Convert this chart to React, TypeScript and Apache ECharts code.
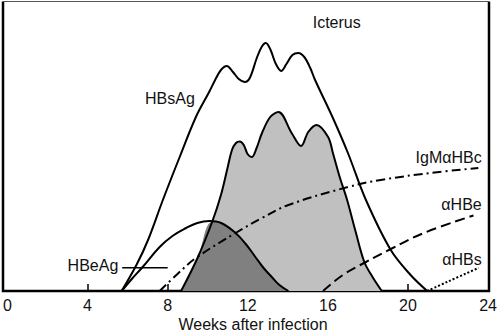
import React, { useEffect, useRef } from "react";
import * as echarts from "echarts";

// x axis (weeks after infection)
const xTicks = [0, 4, 8, 12, 16, 20, 24];
const tickWeeks = [4, 8, 12, 16, 20];

// HBsAg (outer curve)
const hbsAgWeeks = [5.7, 6.44, 7.02, 7.76, 8.58, 9.41, 10.07, 10.37, 10.66, 10.95, 11.26, 11.55, 11.85, 12.1, 12.45, 12.69, 12.9, 13.14, 13.38, 13.67, 13.93, 14.23, 14.52, 14.82, 15.12, 15.36, 16.25, 17.0, 17.9, 19.14, 20.13, 20.96];
const hbsAgLevel = [0, 26, 51, 91, 133, 174, 199, 211, 221, 225, 219, 212, 209, 213, 233, 244, 248, 241, 228, 220, 227, 236, 238, 234, 223, 211, 173, 138, 91, 41, 16, 0];

// Light grey curve (icterus / transaminases)
const greyWeeks = [8.67, 9.49, 10.22, 10.66, 11.0, 11.21, 11.41, 11.6, 11.8, 11.99, 12.2, 12.44, 12.71, 13.12, 13.53, 14.19, 14.66, 15.02, 15.43, 16.01, 16.25, 16.59, 16.96, 17.39, 17.82, 18.23, 18.69];
const greyLevel = [0, 33, 69, 96, 124, 141, 148, 149.5, 146, 137, 134, 143, 158, 174, 179, 158, 145, 159, 166, 154, 138, 114, 91, 59, 29, 14, 0];

// HBeAg bell
const hbeAgWeeks = [5.7, 6.21, 6.75, 7.6, 8.24, 8.92, 9.48, 10.07, 10.67, 11.39, 11.9, 12.38, 12.79, 13.2, 13.58, 14.03];
const hbeAgLevel = [0, 12, 24, 44, 55, 63, 68, 70, 68, 58, 47, 34, 23, 14, 6, 0];

// Dark overlap region (HBeAg inside grey curve)
const darkWeeks = [8.67, 9.49, 10.22, 10.67, 11.39, 11.9, 12.38, 12.79, 13.2, 13.58, 14.03];
const darkLevel = [0, 33, 69, 68, 58, 47, 34, 23, 14, 6, 0];

// IgM anti-HBc (dash-dot)
const igmWeeks = [7.6, 8.49, 9.41, 11.39, 12.71, 14.03, 17.0, 18.64, 21.12, 23.51];
const igmLevel = [0, 17, 33, 58, 73, 86, 104, 111, 118, 123];

// anti-HBe (dashed)
const hbeWeeks = [15.76, 16.75, 17.9, 19.14, 20.79, 23.27];
const hbeLevel = [0, 16, 29, 42, 58, 75.5];

// anti-HBs (dotted)
const hbsWeeks = [20.96, 21.95, 23.51];
const hbsLevel = [0, 9, 23];

// HBeAg label leader line
const leaderWeeks = [5.73, 8.0];
const leaderLevel = [23.3, 23.3];

const zip = (xs: number[], ys: number[]) => xs.map((x, i) => [x, ys[i]]);
const FONT = '"Liberation Sans", Arial, Helvetica, sans-serif';
const TXT = "#111";

export default function App() {
  const ref = useRef<HTMLDivElement>(null);
  useEffect(() => {
    if (!ref.current) return;
    const chart = echarts.init(ref.current, null, { renderer: "svg" });
    const lineOnly = (data: number[][], extra: any = {}, smooth = 0.4) => ({
      type: "line",
      data,
      smooth,
      symbol: "none",
      silent: true,
      lineStyle: { color: "#000", width: 2, ...extra },
    });
    const label = (text: string, x: number, y: number, align: string) => ({
      type: "text",
      x,
      y,
      silent: true,
      style: {
        text,
        fill: TXT,
        font: `16px ${FONT}`,
        textAlign: align,
        textVerticalAlign: "middle",
        verticalAlign: "middle",
      },
    });
    chart.setOption({
      animation: false,
      grid: { left: 6.5, right: 8.5, top: 1.5, bottom: 43 },
      xAxis: {
        type: "value",
        min: xTicks[0],
        max: xTicks[xTicks.length - 1],
        interval: 4,
        axisLine: { show: false },
        splitLine: { show: false },
        axisTick: {
          show: true,
          inside: true,
          length: 7,
          customValues: tickWeeks,
          lineStyle: { color: "#000", width: 1.5 },
        },
        axisLabel: {
          color: TXT,
          fontSize: 16,
          fontFamily: FONT,
          margin: 6,
          showMinLabel: true,
          showMaxLabel: true,
        },
      },
      yAxis: { type: "value", min: 0, max: 289.5, show: false },
      series: [
        {
          type: "line",
          data: zip(greyWeeks, greyLevel),
          smooth: 0.35,
          symbol: "none",
          silent: true,
          lineStyle: { width: 0, opacity: 0 },
          areaStyle: { color: "#c0c0c0", opacity: 1 },
        },
        {
          type: "line",
          data: zip(darkWeeks, darkLevel),
          smooth: 0.4,
          symbol: "none",
          silent: true,
          lineStyle: { width: 0, opacity: 0 },
          areaStyle: { color: "#808080", opacity: 1 },
        },
        lineOnly(zip(greyWeeks, greyLevel), {}, 0.35),
        lineOnly(zip(hbeAgWeeks, hbeAgLevel)),
        lineOnly(zip(hbsAgWeeks, hbsAgLevel), {}, 0.35),
        lineOnly(zip(igmWeeks, igmLevel), { type: [9, 4, 2, 4] }),
        lineOnly(zip(hbeWeeks, hbeLevel), { type: [10, 5] }),
        lineOnly(zip(hbsWeeks, hbsLevel), { type: [2, 2] }),
        { ...lineOnly(zip(leaderWeeks, leaderLevel)), smooth: false, lineStyle: { color: "#000", width: 1.5 } },
      ],
      graphic: [
        {
          type: "polyline",
          silent: true,
          shape: { points: [[3, 1.5], [3, 291], [489, 291], [489, 1.5]] },
          style: { stroke: "#000", lineWidth: 2.5, fill: "none" },
        },
        {
          type: "line",
          silent: true,
          shape: { x1: 3, y1: 1.5, x2: 489, y2: 1.5 },
          style: { stroke: "#555", lineWidth: 1 },
        },
        label("Icterus", 312.7, 22, "left"),
        label("HBsAg", 145, 98, "left"),
        label("IgMαHBc", 481.7, 157, "right"),
        label("αHBe", 481.7, 204, "right"),
        label("αHBs", 481.7, 259, "right"),
        label("HBeAg", 118.3, 265, "right"),
        label("Weeks after infection", 253, 324, "center"),
      ],
    });
    return () => chart.dispose();
  }, []);
  return (
    <div
      ref={ref}
      style={{ position: "absolute", left: 0, top: 0, width: 500, height: 334, background: "#fff" }}
    />
  );
}
